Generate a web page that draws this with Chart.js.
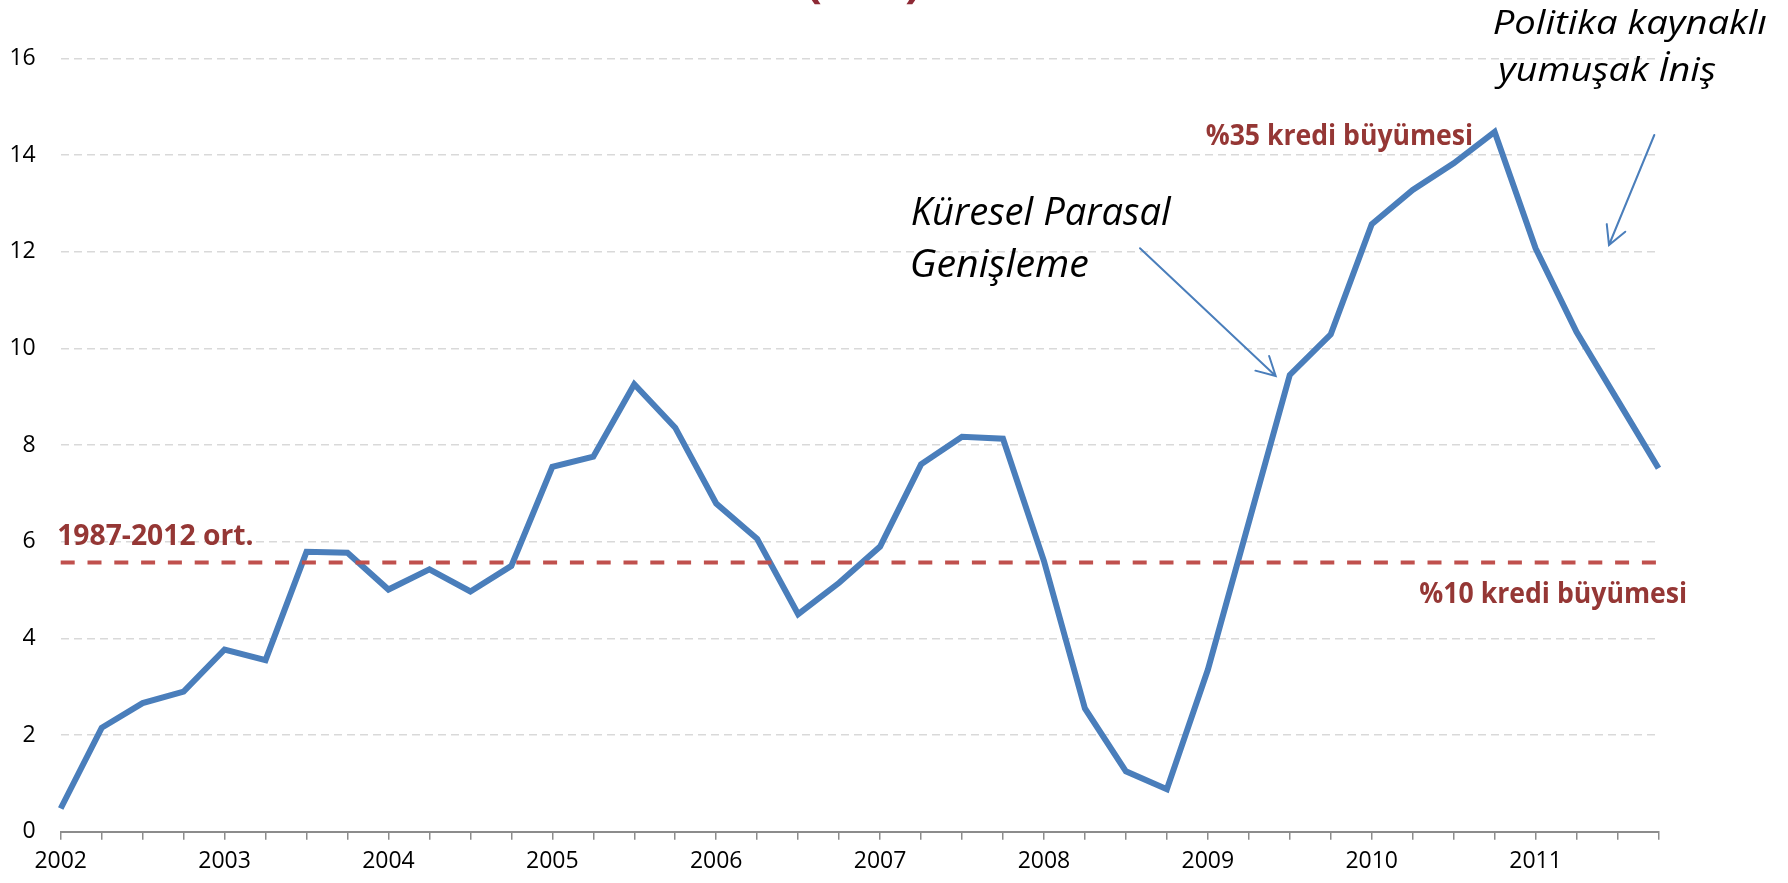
<!DOCTYPE html>
<html>
<head>
<meta charset="utf-8">
<script src="https://cdn.jsdelivr.net/npm/chart.js@4"></script>
<style>
  html, body { margin: 0; padding: 0; background: #ffffff; }
  #wrap { width: 1788px; height: 883px; }
</style>
</head>
<body>
<div id="wrap"><canvas id="chart" width="1788" height="883"></canvas></div>
<script>
// Quarterly series, 2002Q1 .. 2011Q4
const years = ['2002', '2003', '2004', '2005', '2006', '2007', '2008', '2009', '2010', '2011'];
const quarters = ['Q1', 'Q2', 'Q3', 'Q4'];
const categories = years.flatMap(y => quarters.map(q => y + q));

const values = [
    0.48, 2.15, 2.66, 2.90,
    3.77, 3.55, 5.79, 5.77,
    5.01, 5.43, 4.97, 5.50,
    7.55, 7.76, 9.26, 8.36,
    6.79, 6.06, 4.50, 5.15,
    5.90, 7.60, 8.17, 8.13,
    5.60, 2.55, 1.25, 0.88,
    3.35, 6.40, 9.45, 10.29,
    12.57, 13.28, 13.83, 14.48,
    12.07, 10.34, 8.93, 7.52
];

// 1987-2012 average
const averageLevel = 5.57;

const yTicks = [0, 2, 4, 6, 8, 10, 12, 14, 16];

const BLUE = '#4a7ebb';
const RED_LINE = '#c0504d';
const RED_TEXT = '#953735';
const FONT = '"Open Sans", "Liberation Sans", sans-serif';

// Annotation texts (ink box: left x, baseline y, cap height, width)
const notes = [
    { text: 'Küresel Parasal', x: 911.7, y: 225, cap: 28, width: 260, style: 'italic', weight: 'normal', color: '#000000' },
    { text: 'Genişleme', x: 911.7, y: 276.7, cap: 28, width: 176.6, style: 'italic', weight: 'normal', color: '#000000' },
    { text: 'Politika kaynaklı', x: 1493.8, y: 34, cap: 24, width: 272.6, style: 'italic', weight: 'normal', color: '#000000' },
    { text: 'yumuşak İniş', x: 1493.8, y: 81, cap: 24, width: 221.7, style: 'italic', weight: 'normal', color: '#000000' },
    { text: '%35 kredi büyümesi', x: 1205.7, y: 145, cap: 20, width: 266, style: 'normal', weight: 'bold', color: RED_TEXT },
    { text: '1987-2012 ort.', x: 58.2, y: 545, cap: 20, width: 194.4, style: 'normal', weight: 'bold', color: RED_TEXT },
    { text: '%10 kredi büyümesi', x: 1419.3, y: 602.7, cap: 20, width: 266.4, style: 'normal', weight: 'bold', color: RED_TEXT }
];

// Arrows: start -> tip
const arrows = [
    { from: [1140, 248.3], to: [1275.7, 376] },
    { from: [1654.3, 135], to: [1609, 245] }
];

function drawFitted(ctx, t) {
    const size = t.cap / 0.714;
    ctx.save();
    ctx.font = `${t.style} ${t.weight} ${size}px ${FONT}`;
    ctx.textAlign = 'left';
    ctx.textBaseline = 'alphabetic';
    const m = ctx.measureText(t.text);
    const ink = m.actualBoundingBoxLeft + m.actualBoundingBoxRight;
    ctx.translate(t.x, t.y);
    ctx.scale(t.width / ink, 1);
    ctx.fillStyle = t.color;
    ctx.fillText(t.text, m.actualBoundingBoxLeft, 0);
    ctx.restore();
}

function drawArrow(ctx, a) {
    const [x0, y0] = a.from;
    const [x1, y1] = a.to;
    const back = Math.atan2(y0 - y1, x0 - x1);
    const len = 21;
    const spread = 28.5 * Math.PI / 180;
    ctx.save();
    ctx.strokeStyle = BLUE;
    ctx.lineWidth = 2;
    ctx.lineCap = 'round';
    ctx.beginPath();
    ctx.moveTo(x0, y0);
    ctx.lineTo(x1, y1);
    ctx.moveTo(x1 + len * Math.cos(back - spread), y1 + len * Math.sin(back - spread));
    ctx.lineTo(x1, y1);
    ctx.lineTo(x1 + len * Math.cos(back + spread), y1 + len * Math.sin(back + spread));
    ctx.stroke();
    ctx.restore();
}

function drawTitleParens(ctx) {
    // the chart title sits above the picture, only the bottoms of its parentheses show
    ctx.save();
    ctx.font = `bold 48px ${FONT}`;
    ctx.fillStyle = '#8e2a35';
    ctx.textBaseline = 'alphabetic';
    const m = ctx.measureText('(');
    const base = 5 - m.actualBoundingBoxDescent;
    ctx.textAlign = 'right';
    ctx.fillText('(', 822, base);
    ctx.textAlign = 'left';
    ctx.fillText(')', 905, base);
    ctx.restore();
}

const annotationPlugin = {
    id: 'annotations',
    afterDatasetsDraw(chart) {
        const ctx = chart.ctx;
        const area = chart.chartArea;
        const y = chart.scales.y.getPixelForValue(averageLevel);
        ctx.save();
        ctx.strokeStyle = RED_LINE;
        ctx.lineWidth = 4;
        ctx.setLineDash([14, 12.8]);
        ctx.beginPath();
        ctx.moveTo(area.left, y);
        ctx.lineTo(area.right + 2, y);
        ctx.stroke();
        ctx.restore();
    },
    afterDraw(chart) {
        const ctx = chart.ctx;
        notes.forEach(t => drawFitted(ctx, t));
        arrows.forEach(a => drawArrow(ctx, a));
        drawTitleParens(ctx);
    }
};

new Chart(document.getElementById('chart'), {
    type: 'line',
    data: {
        labels: categories,
        datasets: [{
            data: values,
            borderColor: BLUE,
            borderWidth: 6,
            pointRadius: 0,
            tension: 0,
            fill: false
        }]
    },
    options: {
        responsive: false,
        animation: false,
        layout: { padding: { top: 58.4, right: 129.5, bottom: 0, left: 0 } },
        plugins: {
            legend: { display: false },
            tooltip: { enabled: false }
        },
        scales: {
            x: {
                type: 'category',
                offset: false,
                grid: {
                    display: true,
                    drawOnChartArea: false,
                    drawTicks: true,
                    tickLength: 8,
                    color: '#8c8c8c',
                    lineWidth: 1.5
                },
                border: { display: true, color: '#8c8c8c', width: 2 },
                ticks: {
                    autoSkip: false,
                    maxRotation: 0,
                    padding: 8,
                    color: '#000000',
                    font: { family: FONT, size: 23 },
                    callback: (v, i) => (i % 4 === 0 ? categories[i].slice(0, 4) : '')
                },
                afterFit: s => { s.height = 51.3; }
            },
            y: {
                min: 0,
                max: 16,
                afterBuildTicks: s => { s.ticks = yTicks.map(v => ({ value: v })); },
                grid: {
                    color: '#d9d9d9',
                    lineWidth: 1.5,
                    drawTicks: false
                },
                border: { display: false, dash: [8, 5] },
                ticks: {
                    padding: 25,
                    color: '#000000',
                    font: { family: FONT, size: 23 }
                },
                afterFit: s => { s.width = 60.7; }
            }
        }
    },
    plugins: [annotationPlugin]
});
</script>
</body>
</html>
